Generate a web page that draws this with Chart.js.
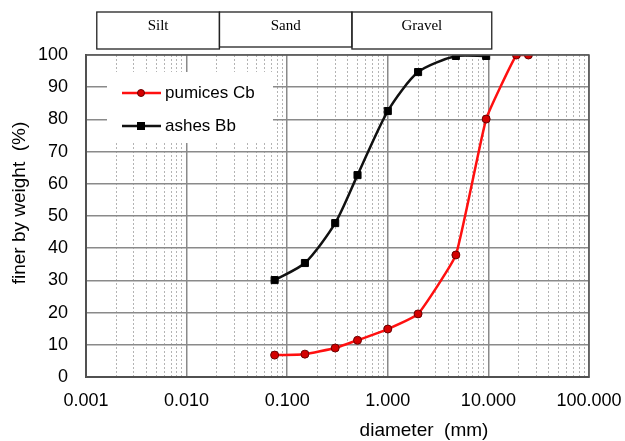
<!DOCTYPE html>
<html>
<head>
<meta charset="utf-8">
<script src="https://cdn.jsdelivr.net/npm/chart.js@4.4.0/dist/chart.umd.min.js"></script>
<style>
html, body { margin: 0; padding: 0; background: #fff; }
</style>
</head>
<body>
<canvas id="canvas" width="625" height="441"></canvas>
<script>
// grain size data (mm / % passing)
var pumicesDiameter = [0.075, 0.15, 0.3, 0.5, 1.0, 2.0, 4.75, 9.5, 19, 25];
var pumicesCb = [6.8, 7.1, 9.0, 11.4, 14.9, 19.6, 37.9, 80.1, 100, 100];
var ashesDiameter = [0.075, 0.15, 0.3, 0.5, 1.0, 2.0, 4.75, 9.5];
var ashesBb = [30.1, 35.4, 47.8, 62.7, 82.6, 94.7, 99.7, 99.7];

var decadeTicks = [0.001, 0.01, 0.1, 1, 10, 100];
var minorSteps = [2, 3, 4, 5, 6, 7, 8, 9];
var yTicks = [0, 10, 20, 30, 40, 50, 60, 70, 80, 90, 100];

// soil class bands drawn above the plot
var zoneNames = ['Silt', 'Sand', 'Gravel'];
var zoneEdges = [0.00128, 0.0212, 0.44, 10.8];

var minorTicks = [];
decadeTicks.slice(0, -1).forEach(function (d) {
    minorSteps.forEach(function (m) { minorTicks.push(d * m); });
});

function toPoints(xs, ys) {
    return xs.map(function (x, i) { return { x: x, y: ys[i] }; });
}

var labelFont = 'Liberation Sans, Arial, sans-serif';

var extras = {
    id: 'extras',
    afterDraw: function (chart) {
        var ctx = chart.ctx;
        var xs = chart.scales.x;
        var area = chart.chartArea;

        // Silt / Sand / Gravel boxes
        ctx.save();
        ctx.strokeStyle = '#222';
        ctx.lineWidth = 1.3;
        ctx.fillStyle = '#000';
        ctx.font = '15px "Liberation Serif", "Times New Roman", serif';
        ctx.textAlign = 'center';
        ctx.textBaseline = 'middle';
        for (var i = 0; i < zoneNames.length; i++) {
            var x0 = xs.getPixelForValue(zoneEdges[i]);
            var x1 = xs.getPixelForValue(zoneEdges[i + 1]);
            var bottom = i === 1 ? 47 : 49;
            ctx.strokeRect(x0, 12, x1 - x0, bottom - 12);
            ctx.fillText(zoneNames[i], (x0 + x1) / 2, 26);
        }
        ctx.restore();

        // axis titles
        ctx.save();
        ctx.fillStyle = '#000';
        ctx.font = '19px ' + labelFont;
        ctx.textAlign = 'center';
        ctx.textBaseline = 'middle';
        ctx.fillText('diameter  (mm)', 424, 431);
        ctx.translate(20, 203);
        ctx.rotate(-Math.PI / 2);
        ctx.fillText('finer by weight  (%)', 0, 0);
        ctx.restore();

        // outer frame
        ctx.save();
        ctx.strokeStyle = '#555';
        ctx.lineWidth = 1.5;
        ctx.strokeRect(area.left, area.top, area.right - area.left, area.bottom - area.top);
        ctx.restore();
    },
    afterDatasetsDraw: function (chart) {
        // legend box inside the plot
        var ctx = chart.ctx;
        ctx.save();
        ctx.fillStyle = '#fff';
        ctx.fillRect(107, 72, 166, 71);
        ctx.font = '17px ' + labelFont;
        ctx.textBaseline = 'middle';
        var rows = [93, 126];
        chart.data.datasets.forEach(function (ds, i) {
            var y = rows[i];
            ctx.strokeStyle = ds.borderColor;
            ctx.lineWidth = ds.borderWidth;
            ctx.beginPath();
            ctx.moveTo(122, y);
            ctx.lineTo(161, y);
            ctx.stroke();
            ctx.fillStyle = ds.pointBackgroundColor;
            ctx.strokeStyle = ds.pointBorderColor;
            ctx.lineWidth = 1;
            if (ds.pointStyle === 'rect') {
                ctx.fillRect(137, y - 4, 8, 8);
            } else {
                ctx.beginPath();
                ctx.arc(141, y, 3.5, 0, Math.PI * 2);
                ctx.fill();
                ctx.stroke();
            }
            ctx.fillStyle = '#000';
            ctx.fillText(ds.label, 165, y);
        });
        ctx.restore();
    }
};

var ctx = document.getElementById('canvas').getContext('2d');
var myChart = new Chart(ctx, {
    type: 'line',
    data: {
        datasets: [{
            label: 'pumices Cb',
            data: toPoints(pumicesDiameter, pumicesCb),
            borderColor: '#ff1010',
            borderWidth: 2.5,
            pointStyle: 'circle',
            pointRadius: 4,
            pointBackgroundColor: '#d40000',
            pointBorderColor: '#6a0000',
            pointBorderWidth: 1,
            tension: 0.12,
            fill: false
        }, {
            label: 'ashes Bb',
            data: toPoints(ashesDiameter, ashesBb),
            borderColor: '#111',
            borderWidth: 2.5,
            pointStyle: 'rect',
            pointRadius: 5,
            pointBackgroundColor: '#000',
            pointBorderColor: '#000',
            pointBorderWidth: 1,
            tension: 0.25,
            fill: false
        }]
    },
    options: {
        responsive: false,
        animation: false,
        layout: { padding: { top: 55, right: 36, left: 0, bottom: 0 } },
        plugins: {
            legend: { display: false },
            tooltip: { enabled: false }
        },
        scales: {
            xMinor: {
                type: 'logarithmic',
                position: 'bottom',
                min: 0.001,
                max: 100,
                afterBuildTicks: function (scale) {
                    scale.ticks = minorTicks.map(function (v) { return { value: v }; });
                },
                afterFit: function (scale) {
                    scale.height = 0;
                    scale.paddingLeft = 0;
                    scale.paddingRight = 0;
                },
                ticks: { display: false },
                grid: { color: '#b4b4b4', lineWidth: 1, drawTicks: false },
                border: { display: false, dash: [2, 2] }
            },
            x: {
                type: 'logarithmic',
                position: 'bottom',
                min: 0.001,
                max: 100,
                afterBuildTicks: function (scale) {
                    scale.ticks = decadeTicks.map(function (v) { return { value: v }; });
                },
                afterFit: function (scale) {
                    scale.height = 64;
                    scale.paddingLeft = 0;
                    scale.paddingRight = 0;
                },
                ticks: {
                    autoSkip: false,
                    maxRotation: 0,
                    padding: 13,
                    color: '#000',
                    font: { family: labelFont, size: 18 },
                    callback: function (v) { return Number(v).toFixed(3); }
                },
                grid: { color: '#8a8a8a', lineWidth: 1.5, drawTicks: false },
                border: { color: '#444', width: 2 }
            },
            y: {
                min: 0,
                max: 100,
                afterBuildTicks: function (scale) {
                    scale.ticks = yTicks.map(function (v) { return { value: v }; });
                },
                afterFit: function (scale) { scale.width = 86; },
                ticks: {
                    padding: 18,
                    color: '#000',
                    font: { family: labelFont, size: 18 }
                },
                grid: { color: '#8a8a8a', lineWidth: 1.5, drawTicks: false },
                border: { color: '#444', width: 2 }
            }
        }
    },
    plugins: [extras]
});
</script>
</body>
</html>
